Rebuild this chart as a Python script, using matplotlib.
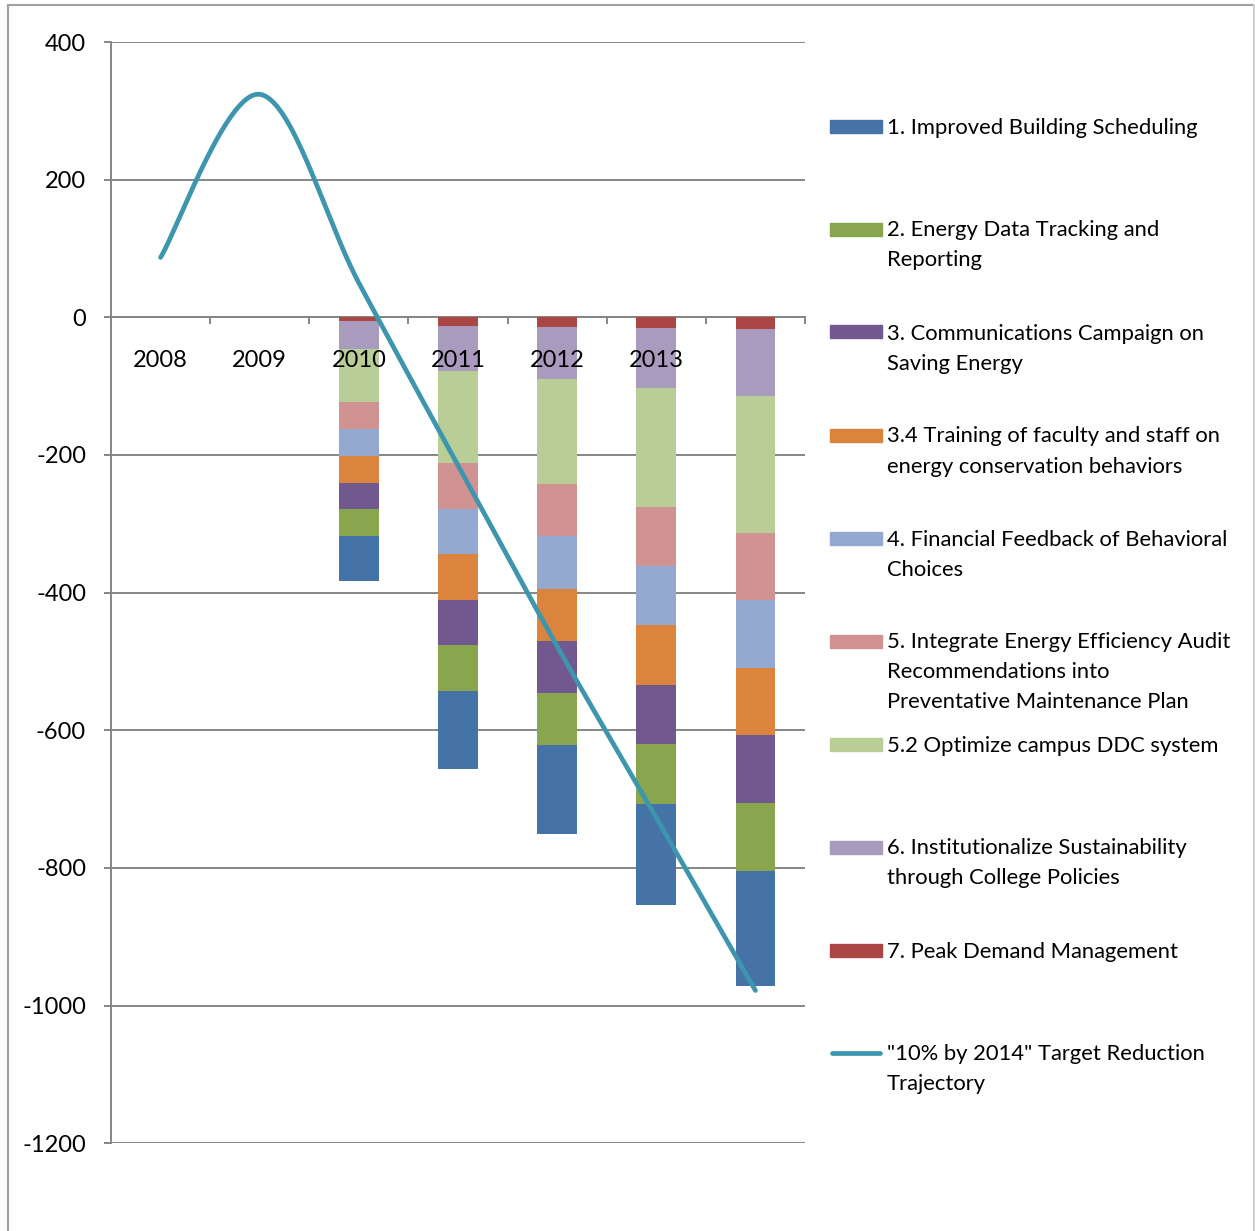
import numpy as np
import matplotlib.pyplot as plt
from matplotlib.lines import Line2D
from matplotlib.patches import Rectangle

plt.rcParams['font.family'] = ['Lato', 'DejaVu Sans']
plt.rcParams['axes.unicode_minus'] = False

years = ['2008', '2009', '2010', '2011', '2012', '2013', '']

# energy savings per measure (stacked below zero)
scheduling = [0, 0, 65, 113, 129, 147, 167]
data_tracking = [0, 0, 39, 67, 76, 87, 99]
comms = [0, 0, 39, 66, 76, 86, 98]
training = [0, 0, 39, 66, 76, 87, 98]
fin_feedback = [0, 0, 39, 66, 76, 86, 98]
audit_recs = [0, 0, 39, 66, 76, 86, 98]
ddc = [0, 0, 77, 134, 152, 173, 198]
policies = [0, 0, 40, 66, 76, 86, 98]
peak_demand = [0, 0, 6, 12, 14, 16, 17]

target = [87, 324, 50, -215, -478, -727, -978]

labels = [
    "1. Improved Building Scheduling",
    "2. Energy Data Tracking and\nReporting",
    "3. Communications Campaign on\nSaving Energy",
    "3.4 Training of faculty and staff on\nenergy conservation behaviors",
    "4. Financial Feedback of Behavioral\nChoices",
    "5. Integrate Energy Efficiency Audit\nRecommendations into\nPreventative Maintenance Plan",
    "5.2 Optimize campus DDC system",
    "6. Institutionalize Sustainability\nthrough College Policies",
    "7. Peak Demand Management",
    "\"10% by 2014\" Target Reduction\nTrajectory",
]
colors = ['#4572A7', '#89A54E', '#71588F', '#DB843D', '#93A9CF',
          '#D19392', '#B9CD96', '#A99BBD', '#AA4643']
line_color = '#3D96AE'
grid_color = '#868686'

series = [scheduling, data_tracking, comms, training, fin_feedback,
          audit_recs, ddc, policies, peak_demand]


def smooth(xv, yv, n=60):
    # bezier through the points, control points from neighbours / 6
    px = np.r_[xv[0], xv, xv[-1]].astype(float)
    py = np.r_[yv[0], yv, yv[-1]].astype(float)
    t = np.linspace(0, 1, n)[:, None]
    out = []
    for j in range(len(xv) - 1):
        p0 = np.array([px[j + 1], py[j + 1]])
        p3 = np.array([px[j + 2], py[j + 2]])
        c1 = p0 + (p3 - np.array([px[j], py[j]])) / 6
        c2 = p3 - (np.array([px[j + 3], py[j + 3]]) - p0) / 6
        seg = ((1 - t) ** 3) * p0 + 3 * ((1 - t) ** 2) * t * c1 \
            + 3 * (1 - t) * t ** 2 * c2 + t ** 3 * p3
        out.append(seg)
    out = np.vstack(out)
    return out[:, 0], out[:, 1]


W, H = 1255, 1231
fig = plt.figure(figsize=(W / 100, H / 100), dpi=100)
ax = fig.add_axes([111 / W, 1 - 1143.3 / H, (805 - 111) / W, (1143.3 - 42) / H])

x = np.arange(len(years))
ax.set_xlim(-0.5, len(years) - 0.5)
ax.set_ylim(-1200, 400)

# stack from zero downward: peak demand first, scheduling last
bottom = np.zeros(len(years))
for vals, c in reversed(list(zip(series, colors))):
    v = np.array(vals, float)
    ax.bar(x, -v, bottom=bottom, width=0.4, color=c, edgecolor='none', zorder=2)
    bottom = bottom - v

sx, sy = smooth(x, target)
ax.plot(sx, sy, color=line_color, lw=3.4, solid_capstyle='round', zorder=4)

ax.set_yticks(range(-1200, 401, 200))
ax.yaxis.grid(True, color=grid_color, lw=1.4)
ax.set_axisbelow(True)
for s in ['top', 'right']:
    ax.spines[s].set_visible(False)
ax.spines['left'].set_color(grid_color)
ax.spines['left'].set_linewidth(1.4)
ax.spines['bottom'].set_position(('data', 0))
ax.spines['bottom'].set_color(grid_color)
ax.spines['bottom'].set_linewidth(1.4)
ax.spines['bottom'].set_zorder(1)

# year labels sit next to the zero line, on top of the bars
ax.set_xticks(x)
ax.set_xticklabels([])
ax.set_xticks(np.arange(-0.5, len(years), 1.0), minor=True)
ax.tick_params(axis='x', which='major', length=0)
ax.tick_params(axis='x', which='minor', length=5, width=1.4, color=grid_color)
ax.tick_params(axis='y', length=5, width=1.4, color=grid_color, pad=13, labelsize=17)
for xi, yr in zip(x, years):
    ax.annotate(yr, (xi, 0), xytext=(0, -50), textcoords='offset pixels',
                ha='center', va='baseline', fontsize=17, zorder=3)

# legend on the right
for i, lab in enumerate(labels):
    yc = 126 + 103 * i
    if i < len(colors):
        fig.patches.append(Rectangle((830 / W, 1 - (yc + 6.5) / H), 52 / W, 13 / H,
                                     transform=fig.transFigure, color=colors[i]))
    else:
        fig.lines.append(Line2D([832 / W, 880 / W], [1 - yc / H, 1 - yc / H],
                                transform=fig.transFigure, color=line_color,
                                lw=3.4, solid_capstyle='round'))
    for k, part in enumerate(lab.split('\n')):
        fig.text(887 / W, 1 - (yc + 7.5 + 30 * k) / H, part, fontsize=15.8,
                 va='baseline', ha='left')

# outer frame
frame = dict(transform=fig.transFigure, color='#a0a0a0', lw=1.5)
fig.lines.append(Line2D([8 / W, 8 / W], [0, 1 - 5 / H], **frame))
fig.lines.append(Line2D([8 / W, 1254 / W], [1 - 5 / H, 1 - 5 / H], **frame))
fig.lines.append(Line2D([1254 / W, 1254 / W], [0, 1 - 5 / H], **dict(frame, color='#d0d0d0')))

fig.savefig('out.png', dpi=100)
